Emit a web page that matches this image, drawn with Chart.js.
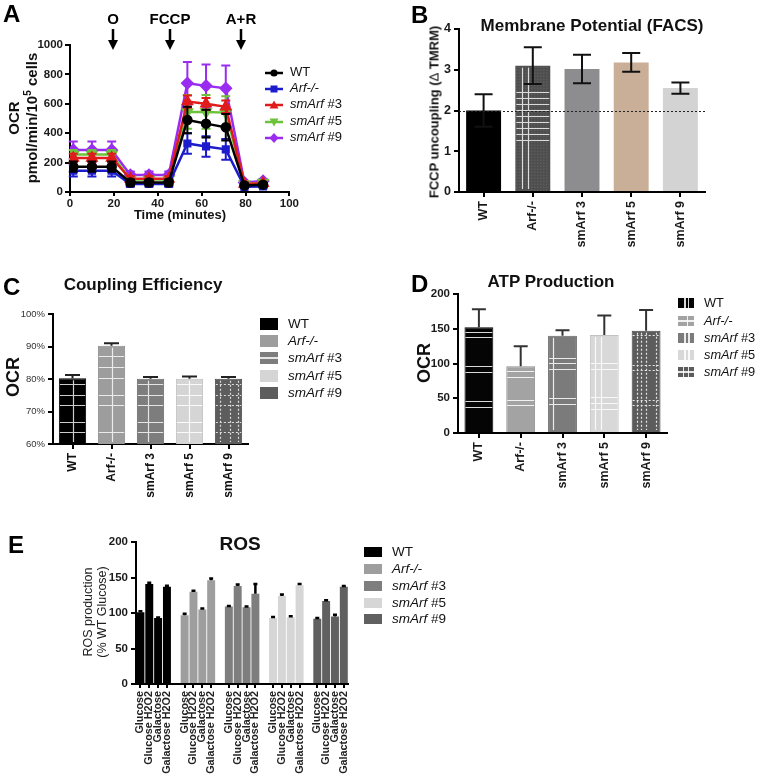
<!DOCTYPE html>
<html><head><meta charset="utf-8">
<script src="https://cdn.jsdelivr.net/npm/chart.js@4.4.1/dist/chart.umd.min.js"></script>
<style>
html,body{margin:0;padding:0;background:#fff;}
#page{position:relative;width:757px;height:775px;overflow:hidden;font-family:'Liberation Sans',Arial,sans-serif;color:#111;}
canvas{position:absolute;}
.t{position:absolute;white-space:nowrap;}
.sw{position:absolute;}
</style></head>
<body><div id="page"></div>
<script>
// ---------------- DATA ----------------
const genotypes = ['WT', 'Arf-/-', 'smArf #3', 'smArf #5', 'smArf #9'];
const barLabels = ['WT', 'Arf-/-', 'smArf 3', 'smArf 5', 'smArf 9'];

// Panel A: OCR time course
const timeMin = [1.5, 10, 19, 27.5, 36, 45, 53.5, 62, 71, 79.5, 88];
const ocrWT     = [172, 172, 172, 65, 65, 65, 490, 465, 440, 45, 50];
const ocrArf    = [145, 145, 145, 55, 55, 55, 330, 310, 290, 35, 38];
const ocrSm3    = [232, 232, 232, 90, 90, 90, 615, 600, 580, 55, 60];
const ocrSm5    = [255, 255, 255, 85, 85, 85, 545, 545, 540, 55, 65];
const ocrSm9    = [285, 285, 285, 115, 115, 115, 740, 722, 705, 65, 75];
const ocrErrWT  = [35, 35, 35, 20, 20, 20, 90, 95, 90, 12, 12];
const ocrErrArf = [40, 40, 40, 18, 18, 18, 70, 70, 70, 10, 10];
const ocrErrSm3 = [28, 28, 28, 18, 18, 18, 42, 40, 42, 10, 10];
const ocrErrSm5 = [30, 30, 30, 18, 18, 18, 115, 115, 112, 10, 10];
const ocrErrSm9 = [58, 58, 58, 25, 25, 25, 145, 145, 155, 10, 12];
const injectionTimes = [19.5, 45.5, 78];
const injectionLabels = ['O', 'FCCP', 'A+R'];

// Panel B: membrane potential
const membValues = [2.0, 3.1, 3.02, 3.18, 2.55];
const membErr    = [0.4, 0.45, 0.35, 0.23, 0.14];
const membRef = 2;

// Panel C: coupling efficiency (%)
const coupValues = [80.2, 90.2, 80.1, 80.1, 80.1];
const coupErr    = [1.0, 0.8, 0.5, 0.7, 0.5];

// Panel D: ATP production
const atpValues = [152, 96, 140, 141, 147];
const atpErr    = [26, 29, 8, 28, 30];

// Panel E: ROS
const rosConditions = ['Glucose', 'Glucose H2O2', 'Galactose', 'Galactose H2O2'];
const rosWT     = [101, 141, 93, 137];
const rosArf    = [97, 130, 105, 146];
const rosSm3    = [109, 138, 108, 127];
const rosSm5    = [93, 124, 94, 139];
const rosSm9    = [92, 117, 95, 137];
const rosErrWT  = [1.5, 1.5, 0.5, 1.5];
const rosErrArf = [2, 1.5, 1.5, 2.5];
const rosErrSm3 = [1, 2, 1, 14];
const rosErrSm5 = [1.5, 2, 1.5, 2];
const rosErrSm9 = [1, 1, 2.5, 1];

// ---------------- HELPERS ----------------
const FONT = "'Liberation Sans', Arial, sans-serif";
const page = document.getElementById('page');
const cfgMap = {};

function addText(html, x, y, o) {
  o = o || {};
  const s = o.size || 13;
  const d = document.createElement('div');
  d.className = 't';
  d.innerHTML = html;
  d.style.fontSize = s + 'px';
  d.style.lineHeight = s + 'px';
  d.style.fontWeight = o.weight || 'bold';
  d.style.fontStyle = o.style || 'normal';
  d.style.color = o.color || '#111';
  if (o.rot) {
    d.style.left = x + 'px'; d.style.top = y + 'px';
    d.style.transform = 'translate(-50%,-50%) rotate(-90deg)';
  } else {
    d.style.left = x + 'px';
    d.style.top = (y - 0.8465 * s) + 'px';
    if (o.align === 'center') d.style.transform = 'translateX(-50%)';
  }
  page.appendChild(d);
  return d;
}
function makeCanvas(id, L, T, W, H) {
  const c = document.createElement('canvas');
  c.id = id; c.width = W; c.height = H;
  c.style.left = L + 'px'; c.style.top = T + 'px';
  c.style.width = W + 'px'; c.style.height = H + 'px';
  page.appendChild(c);
  return c;
}
function geom(L, T, W, H, x0, y0, x1, y1) {
  return {L, T, W, H, yW: x0 - L, xH: (T + H) - y1, padTop: y0 - T, padRight: (L + W) - x1};
}
function axis(font, extra) {
  const a = {
    grid: {display: true, drawOnChartArea: false, drawTicks: true, tickLength: 5, color: '#000', lineWidth: 2, offset: false},
    border: {display: true, color: '#000', width: 2},
    ticks: {color: '#1a1a1a', font: font, padding: 3}
  };
  return Object.assign(a, extra || {});
}
function baseOptions(g) {
  return {
    responsive: false, animation: false, devicePixelRatio: 1,
    layout: {padding: {top: g.padTop, right: g.padRight, left: 0, bottom: 0}},
    plugins: {legend: {display: false}, tooltip: {enabled: false}, title: {display: false}}
  };
}
function legendHtml(name, i) {
  const parts = name.split(' ');
  return i === 0 ? name : (i === 1 ? '<i>' + name + '</i>' : '<i>' + parts[0] + '</i> ' + parts[1]);
}
function barBox(el, area) {
  const p = el.getProps(['x', 'y', 'base', 'width'], true);
  const t = Math.max(Math.min(p.y, p.base), area.top);
  const b = Math.min(Math.max(p.y, p.base), area.bottom);
  return {l: p.x - p.width / 2, r: p.x + p.width / 2, t: t, b: b, w: p.width, x: p.x};
}
function patLines(ctx, bx, hOff, vFr, dashed, color) {
  ctx.save();
  ctx.strokeStyle = color || 'rgba(255,255,255,0.85)';
  ctx.lineWidth = 1.2;
  if (dashed) ctx.setLineDash([2, 2]);
  ctx.beginPath();
  hOff.forEach(o => { const y = Math.round(bx.b - o) + 0.5; if (y > bx.t + 3 && y < bx.b) { ctx.moveTo(bx.l + 1, y); ctx.lineTo(bx.r - 1, y); } });
  vFr.forEach(f => { const x = Math.round(bx.l + bx.w * f) + 0.5; ctx.moveTo(x, bx.t + 2); ctx.lineTo(x, bx.b - 2); });
  ctx.stroke();
  ctx.restore();
}

// ---------------- PLUGINS ----------------
function drawErr(chart, di, meta) {
  const c = cfgMap[chart.canvas.id]; if (!c || !c.err) return;
  const errs = c.err.errors[di]; if (!errs) return;
  const o = c.err;
  const ys = chart.scales.y, ctx = chart.ctx, ds = chart.data.datasets[di];
  ctx.save();
  ctx.strokeStyle = o.color || ds.borderColor;
  ctx.lineWidth = o.lineWidth || 2;
  meta.data.forEach((el, i) => {
    const raw = ds.data[i];
    const v = (raw !== null && typeof raw === 'object') ? raw.y : raw;
    const e = errs[i];
    if (v == null || e == null) return;
    const x = el.x;
    const yt = ys.getPixelForValue(v + e);
    const yb = o.upOnly ? ys.getPixelForValue(v) : ys.getPixelForValue(v - e);
    const h = o.cap / 2;
    ctx.beginPath();
    ctx.moveTo(x, yt); ctx.lineTo(x, yb);
    ctx.moveTo(x - h, yt); ctx.lineTo(x + h, yt);
    if (!o.upOnly) { ctx.moveTo(x - h, yb); ctx.lineTo(x + h, yb); }
    ctx.stroke();
  });
  ctx.restore();
}
const decorPlugin = {
  id: 'decorBars',
  afterDatasetDraw(chart, args) {
    const c = cfgMap[chart.canvas.id]; if (!c || !c.decor) return;
    args.meta.data.forEach((el, i) => c.decor(chart.ctx, barBox(el, chart.chartArea), args.index, i));
  }
};
const errPlugin = {
  id: 'errBars',
  beforeDatasetDraw(chart, args) { const c = cfgMap[chart.canvas.id]; if (c && c.err && c.err.before) drawErr(chart, args.index, args.meta); },
  afterDatasetDraw(chart, args) { const c = cfgMap[chart.canvas.id]; if (c && c.err && !c.err.before) drawErr(chart, args.index, args.meta); }
};
const extraPlugin = {
  id: 'extras',
  afterDatasetsDraw(chart) { const c = cfgMap[chart.canvas.id]; if (c && c.extra) c.extra(chart); }
};
Chart.register(decorPlugin, errPlugin, extraPlugin);

// ---------------- PANEL A ----------------
(function () {
  const g = geom(0, 0, 300, 228, 70, 45, 290, 192);
  const cv = makeCanvas('cA', g.L, g.T, g.W, g.H);
  const series = [ocrWT, ocrArf, ocrSm3, ocrSm5, ocrSm9];
  const errs = [ocrErrWT, ocrErrArf, ocrErrSm3, ocrErrSm5, ocrErrSm9];
  const cols = ['#000000', '#1c1ccc', '#e01b1b', '#6cc23a', '#9a2cf0'];
  const pts = ['circle', 'rect', 'triangle', 'triangle', 'rectRot'];
  const rots = [0, 0, 0, 180, 0];
  const rad = [4, 4, 5, 5, 5];
  cfgMap.cA = {
    err: {errors: errs, cap: 9, lineWidth: 2, before: true},
    extra(chart) {
      const ctx = chart.ctx, xs = chart.scales.x;
      ctx.save();
      ctx.fillStyle = '#000'; ctx.strokeStyle = '#000';
      ctx.font = 'bold 15px ' + FONT; ctx.textAlign = 'center'; ctx.textBaseline = 'alphabetic';
      injectionTimes.forEach((t, i) => {
        const px = Math.round(xs.getPixelForValue(t));
        ctx.fillText(injectionLabels[i], px, 24);
        ctx.lineWidth = 2.5;
        ctx.beginPath(); ctx.moveTo(px, 29); ctx.lineTo(px, 44); ctx.stroke();
        ctx.beginPath(); ctx.moveTo(px - 5, 40); ctx.lineTo(px + 5, 40); ctx.lineTo(px, 50); ctx.closePath(); ctx.fill();
      });
      ctx.restore();
    }
  };
  const opts = baseOptions(g);
  opts.scales = {
    x: axis({size: 11.5, weight: 'bold', family: FONT}, {type: 'linear', min: 0, max: 100, afterFit: s => { s.height = g.xH; }}),
    y: axis({size: 11.5, weight: 'bold', family: FONT}, {type: 'linear', min: 0, max: 1000, afterFit: s => { s.width = g.yW; }})
  };
  opts.scales.x.grid.tickLength = 4;
  Object.assign(opts.scales.x.ticks, {stepSize: 20, padding: 1, callback: v => String(v)});
  Object.assign(opts.scales.y.ticks, {stepSize: 200, padding: 2, callback: v => String(v)});
  new Chart(cv, {
    type: 'line',
    data: {datasets: series.map((s, i) => ({
      label: genotypes[i],
      data: timeMin.map((t, k) => ({x: t, y: s[k]})),
      borderColor: cols[i], backgroundColor: cols[i], pointBorderColor: cols[i], pointBackgroundColor: cols[i],
      pointStyle: pts[i], pointRotation: rots[i], pointRadius: rad[i], borderWidth: 2.5, tension: 0
    }))},
    options: opts
  });
  addText('A', 3, 22, {size: 24, color: '#000'});
  addText('OCR', 13, 118, {size: 15, rot: true});
  addText('pmol/min/10<sup style="font-size:10px;vertical-align:6px;line-height:0">5</sup> cells', 31, 118, {size: 15, rot: true});
  addText('Time (minutes)', 180, 219, {size: 13, align: 'center'});
  const rows = [71, 87, 103, 120, 136];
  const shapes = [
    '<circle cx="9" cy="6" r="3.6"/>',
    '<rect x="5.5" y="2.5" width="7" height="7"/>',
    '<polygon points="9,1.5 13.5,9.5 4.5,9.5"/>',
    '<polygon points="9,10.5 13.5,2.5 4.5,2.5"/>',
    '<polygon points="9,1 13.5,6 9,11 4.5,6"/>'
  ];
  genotypes.forEach((name, i) => {
    const sv = document.createElement('div');
    sv.className = 'sw';
    sv.style.left = '265px'; sv.style.top = (rows[i] - 6) + 'px';
    sv.innerHTML = '<svg width="19" height="12"><line x1="0" y1="6" x2="18" y2="6" stroke="' + cols[i] + '" stroke-width="2.5"/><g fill="' + cols[i] + '">' + shapes[i] + '</g></svg>';
    page.appendChild(sv);
    addText(legendHtml(name, i), 290, rows[i] + 4.7, {size: 13, weight: 'normal'});
  });
})();

// ---------------- PANEL B ----------------
(function () {
  const g = geom(380, 0, 377, 265, 459, 29, 705, 192);
  const cv = makeCanvas('cB', g.L, g.T, g.W, g.H);
  const colors = ['#000000', '#4e4e4e', '#8d8d8f', '#c9ae98', '#d3d3d3'];
  cfgMap.cB = {
    err: {errors: [membErr], color: '#111', cap: 18, lineWidth: 2},
    decor(ctx, bx, di, i) {
      if (i !== 1) return;
      ctx.save();
      ctx.fillStyle = '#6e6e6e';
      for (let y = bx.t + 1; y < bx.b - 1; y += 3) for (let x = bx.l + 1; x < bx.r - 1; x += 3) ctx.fillRect(x, y, 1, 1);
      ctx.restore();
      const h = [];
      for (let k = 0; k < 9; k++) h.push((bx.b - bx.t) - 26 - 6 * k);
      patLines(ctx, bx, h, [0.18, 0.37], false, 'rgba(255,255,255,0.8)');
    },
    extra(chart) {
      const ctx = chart.ctx, ys = chart.scales.y, a = chart.chartArea;
      const y = Math.round(ys.getPixelForValue(membRef)) + 0.5;
      ctx.save(); ctx.strokeStyle = '#222'; ctx.lineWidth = 1.2; ctx.setLineDash([2, 2]);
      ctx.beginPath(); ctx.moveTo(a.left, y); ctx.lineTo(a.right, y); ctx.stroke(); ctx.restore();
    }
  };
  const opts = baseOptions(g);
  opts.scales = {
    x: axis({size: 12.5, weight: 'bold', family: FONT}, {afterFit: s => { s.height = g.xH; }}),
    y: axis({size: 12.5, weight: 'bold', family: FONT}, {min: 0, max: 4, afterFit: s => { s.width = g.yW; }})
  };
  Object.assign(opts.scales.x.ticks, {minRotation: 90, maxRotation: 90, autoSkip: false, padding: 4});
  opts.scales.y.ticks.stepSize = 1;
  new Chart(cv, {
    type: 'bar',
    data: {labels: barLabels, datasets: [{label: 'Membrane Potential', data: membValues, backgroundColor: colors, borderWidth: 0, barPercentage: 0.71, categoryPercentage: 1}]},
    options: opts
  });
  addText('B', 411, 23, {size: 24, color: '#000'});
  addText('Membrane Potential (FACS)', 592, 31, {size: 17, align: 'center'});
  addText('FCCP uncoupling (<span style="font-weight:normal">&Delta;</span> TMRM)', 434, 112, {size: 13, rot: true});
})();

// ---------------- PANEL C ----------------
const cColors = ['#000000', '#9d9d9d', '#7d7d7d', '#d5d5d5', '#5d5d5d'];
(function () {
  const g = geom(0, 270, 260, 245, 53, 314, 248, 444);
  const cv = makeCanvas('cC', g.L, g.T, g.W, g.H);
  const H = [[12, 22, 39, 49, 60], [12, 39, 49, 66, 77, 88], [12, 22, 39, 49, 60], [12, 22, 39, 49, 60], [12, 22, 39, 49, 60]];
  const V = [[0.5], [0.5], [0.41], [0.48], [0.18, 0.55, 0.83]];
  cfgMap.cC = {
    err: {errors: [coupErr], color: '#222', cap: 15, lineWidth: 2, upOnly: true},
    decor(ctx, bx, di, i) {
      patLines(ctx, bx, H[i], V[i], i === 4, i === 3 ? 'rgba(255,255,255,0.9)' : 'rgba(255,255,255,0.8)');
    }
  };
  const opts = baseOptions(g);
  opts.scales = {
    x: axis({size: 12, weight: 'bold', family: FONT}, {afterFit: s => { s.height = g.xH; }}),
    y: axis({size: 9.5, weight: 'normal', family: FONT}, {min: 60, max: 100, afterFit: s => { s.width = g.yW; }})
  };
  Object.assign(opts.scales.x.ticks, {minRotation: 90, maxRotation: 90, autoSkip: false, padding: 4, color: '#111'});
  Object.assign(opts.scales.y.ticks, {stepSize: 10, color: '#333', callback: v => v + '%'});
  new Chart(cv, {
    type: 'bar',
    data: {labels: barLabels, datasets: [{label: 'Coupling Efficiency', data: coupValues, backgroundColor: cColors,
      borderColor: ['#000', '#8a8a8a', '#6a6a6a', '#bdbdbd', '#4a4a4a'], borderWidth: 1, barPercentage: 0.7, categoryPercentage: 1}]},
    options: opts
  });
  addText('C', 3, 295, {size: 24, color: '#000'});
  addText('Coupling Efficiency', 143, 290, {size: 17, align: 'center'});
  addText('OCR', 13, 377, {size: 18, rot: true});
  const rows = [324, 341, 358, 376, 393];
  genotypes.forEach((name, i) => {
    const sw = document.createElement('div');
    sw.className = 'sw';
    Object.assign(sw.style, {left: '260px', top: (rows[i] - 6) + 'px', width: '18px', height: '12px', background: cColors[i]});
    if (i === 2) sw.style.background = 'linear-gradient(180deg, transparent 45%, rgba(255,255,255,0.8) 45%, rgba(255,255,255,0.8) 58%, transparent 58%), ' + cColors[i];
    page.appendChild(sw);
    addText(legendHtml(name, i), 288, rows[i] + 4.7, {size: 13.5, weight: 'normal'});
  });
})();

// ---------------- PANEL D ----------------
const dColors = ['#050505', '#a3a3a3', '#7b7b7b', '#d8d8d8', '#5c5c5c'];
(function () {
  const g = geom(380, 265, 300, 245, 458, 294, 667, 433);
  const cv = makeCanvas('cD', g.L, g.T, g.W, g.H);
  const H = [[25, 31, 60, 66, 95, 100], [27, 32, 55, 61], [28, 34, 63, 69, 74], [23, 29, 35, 63, 69], [27, 32, 62, 67, 97]];
  const V = [[], [], [0.17], [0.17, 0.37], [0.17, 0.34, 0.51, 0.85]];
  cfgMap.cD = {
    err: {errors: [atpErr], color: '#333', cap: 14, lineWidth: 2, upOnly: true},
    decor(ctx, bx, di, i) {
      patLines(ctx, bx, H[i], V[i], i === 4, 'rgba(255,255,255,0.85)');
    }
  };
  const opts = baseOptions(g);
  opts.scales = {
    x: axis({size: 12.5, weight: 'bold', family: FONT}, {afterFit: s => { s.height = g.xH; }}),
    y: axis({size: 11.5, weight: 'bold', family: FONT}, {min: 0, max: 200, afterFit: s => { s.width = g.yW; }})
  };
  Object.assign(opts.scales.x.ticks, {minRotation: 90, maxRotation: 90, autoSkip: false, padding: 4});
  opts.scales.y.ticks.stepSize = 50;
  new Chart(cv, {
    type: 'bar',
    data: {labels: barLabels, datasets: [{label: 'ATP Production', data: atpValues, backgroundColor: dColors,
      borderColor: ['#000', '#8f8f8f', '#666', '#c2c2c2', '#454545'], borderWidth: 1, barPercentage: 0.69, categoryPercentage: 1}]},
    options: opts
  });
  addText('D', 411, 292, {size: 24, color: '#000'});
  addText('ATP Production', 551, 287, {size: 17, align: 'center'});
  addText('OCR', 424, 363, {size: 18, rot: true});
  const rows = [303, 321, 338, 355, 372];
  const w = 'rgba(255,255,255,0.85)';
  const bgs = [
    `linear-gradient(90deg, transparent 38%, ${w} 38%, ${w} 48%, transparent 48%, transparent 60%, ${w} 60%, ${w} 70%, transparent 70%)`,
    `linear-gradient(180deg, transparent 42%, ${w} 42%, ${w} 56%, transparent 56%), linear-gradient(90deg, transparent 55%, ${w} 55%, ${w} 65%, transparent 65%)`,
    `linear-gradient(90deg, transparent 40%, ${w} 40%, ${w} 50%, transparent 50%, transparent 62%, ${w} 62%, ${w} 72%, transparent 72%)`,
    `linear-gradient(90deg, transparent 40%, ${w} 40%, ${w} 50%, transparent 50%, transparent 62%, ${w} 62%, ${w} 72%, transparent 72%)`,
    `linear-gradient(180deg, transparent 42%, ${w} 42%, ${w} 56%, transparent 56%), linear-gradient(90deg, transparent 30%, ${w} 30%, ${w} 38%, transparent 38%, transparent 62%, ${w} 62%, ${w} 70%, transparent 70%)`
  ];
  genotypes.forEach((name, i) => {
    const sw = document.createElement('div');
    sw.className = 'sw';
    Object.assign(sw.style, {left: '678px', top: (rows[i] - 5) + 'px', width: '16px', height: '10px', background: bgs[i] + ', ' + dColors[i]});
    page.appendChild(sw);
    addText(legendHtml(name, i), 704, rows[i] + 4.7, {size: 12.8, weight: 'normal'});
  });
})();

// ---------------- PANEL E ----------------
const eColors = ['#000000', '#9e9e9e', '#7e7e7e', '#d6d6d6', '#606060'];
(function () {
  const g = geom(0, 520, 360, 255, 136, 542, 349, 684);
  const cv = makeCanvas('cE', g.L, g.T, g.W, g.H);
  const groups = [rosWT, rosArf, rosSm3, rosSm5, rosSm9];
  const gErr = [rosErrWT, rosErrArf, rosErrSm3, rosErrSm5, rosErrSm9];
  const labels = [];
  groups.forEach((gr, gi) => {
    rosConditions.forEach(c => labels.push(c));
    if (gi < groups.length - 1) labels.push('');
  });
  const slot = (gi, k) => gi * (rosConditions.length + 1) + k;
  const datasets = groups.map((gr, gi) => {
    const d = labels.map(() => null);
    gr.forEach((v, k) => { d[slot(gi, k)] = v; });
    return {label: genotypes[gi], data: d, backgroundColor: eColors[gi], borderWidth: 0, barPercentage: 0.9, categoryPercentage: 1};
  });
  const errs = groups.map((gr, gi) => {
    const e = labels.map(() => null);
    gErr[gi].forEach((v, k) => { e[slot(gi, k)] = v; });
    return e;
  });
  cfgMap.cE = {err: {errors: errs, color: '#000', cap: 4, lineWidth: 2.5, upOnly: true}};
  const opts = baseOptions(g);
  opts.scales = {
    x: axis({size: 10.8, weight: 'bold', family: FONT}, {stacked: true, afterFit: s => { s.height = g.xH; }}),
    y: axis({size: 11.5, weight: 'bold', family: FONT}, {stacked: true, min: 0, max: 200, afterFit: s => { s.width = g.yW; }})
  };
  opts.scales.x.grid.tickLength = 4;
  opts.scales.x.grid.tickColor = (c) => (labels[c.index] ? '#000' : 'rgba(0,0,0,0)');
  Object.assign(opts.scales.x.ticks, {minRotation: 90, maxRotation: 90, autoSkip: false, padding: 3, color: '#222'});
  opts.scales.y.ticks.stepSize = 50;
  new Chart(cv, {type: 'bar', data: {labels: labels, datasets: datasets}, options: opts});
  addText('E', 8, 553, {size: 24, color: '#000'});
  addText('ROS', 240, 550, {size: 19, align: 'center'});
  addText('ROS production', 88, 612, {size: 12.5, weight: 'normal', rot: true, color: '#222'});
  addText('(% WT Glucose)', 102, 612, {size: 12.5, weight: 'normal', rot: true, color: '#222'});
  const rows = [552, 569, 586, 603, 619];
  genotypes.forEach((name, i) => {
    const sw = document.createElement('div');
    sw.className = 'sw';
    Object.assign(sw.style, {left: '364px', top: (rows[i] - 5) + 'px', width: '18px', height: '10px', background: eColors[i]});
    page.appendChild(sw);
    addText(legendHtml(name, i), 392, rows[i] + 4.7, {size: 13.5, weight: 'normal'});
  });
})();
</script>
</body></html>
